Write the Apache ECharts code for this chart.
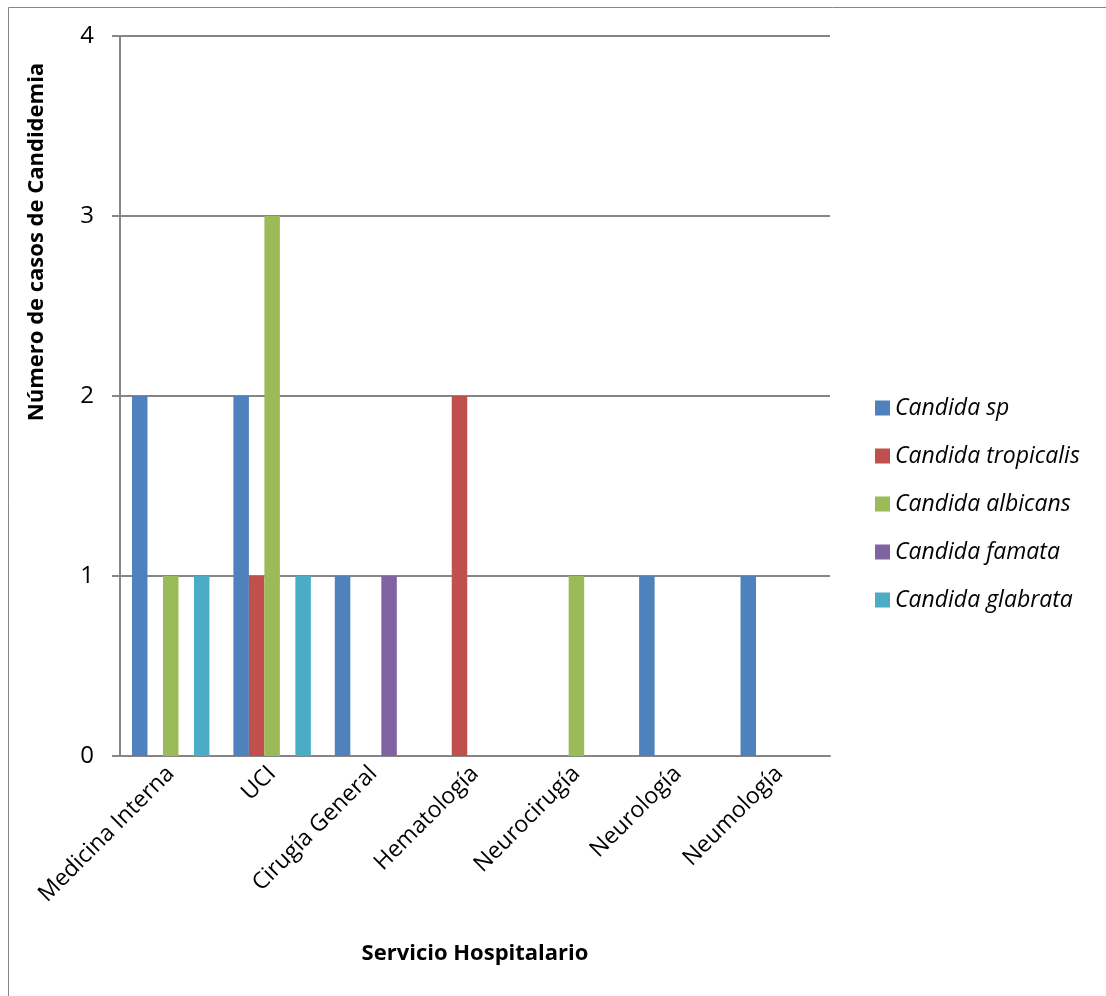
<!DOCTYPE html>
<html>
<head>
<meta charset="utf-8">
<script src="https://cdn.jsdelivr.net/npm/echarts@6/dist/echarts.min.js"></script>
<style>
  html, body { margin: 0; padding: 0; background: #fff; }
  #chart { width: 1106px; height: 996px; }
</style>
</head>
<body>
<div id="chart"></div>
<script>
// Servicios hospitalarios (categorías del eje X)
const servicios = ['Medicina Interna', 'UCI', 'Cirugía General', 'Hematología', 'Neurocirugía', 'Neurología', 'Neumología'];

// Número de casos por especie de Candida
const candidaSp         = [2, 2, 1, 0, 0, 1, 1];
const candidaTropicalis = [0, 1, 0, 2, 0, 0, 0];
const candidaAlbicans   = [1, 3, 0, 0, 1, 0, 0];
const candidaFamata     = [0, 0, 1, 0, 0, 0, 0];
const candidaGlabrata   = [1, 1, 0, 0, 0, 0, 0];

const especies = ['Candida sp', 'Candida tropicalis', 'Candida albicans', 'Candida famata', 'Candida glabrata'];
const colores = ['#4F81BD', '#C0504D', '#9BBB59', '#8064A2', '#4BACC6'];
const valores = [candidaSp, candidaTropicalis, candidaAlbicans, candidaFamata, candidaGlabrata];

const tituloY = 'Número de casos de Candidemia';
const tituloX = 'Servicio Hospitalario';

const fuente = '"Open Sans", "Liberation Sans", sans-serif';

const chart = echarts.init(document.getElementById('chart'), null, { renderer: 'canvas' });

chart.setOption({
  animation: false,
  backgroundColor: '#fff',
  color: colores,
  graphic: [
    {
      // marco del área del gráfico
      type: 'rect',
      shape: { x: 8.5, y: 7.5, width: 1200, height: 1200 },
      style: { fill: 'none', stroke: '#868686', lineWidth: 1 },
      silent: true
    },
    {
      // título del eje vertical, desplazado hacia arriba
      type: 'text',
      x: 37,
      y: 242,
      rotation: Math.PI / 2,
      style: {
        text: tituloY,
        fontFamily: fuente,
        fontSize: 22,
        fontWeight: 'bold',
        fill: '#000',
        align: 'center',
        verticalAlign: 'middle'
      },
      silent: true
    }
  ],
  grid: { left: 120, top: 36, width: 710, height: 720 },
  legend: {
    orient: 'vertical',
    left: 870,
    top: 390,
    itemWidth: 15,
    itemHeight: 15,
    itemGap: 22,
    icon: 'rect',
    textStyle: { fontFamily: fuente, fontSize: 23, fontStyle: 'italic', color: '#000', lineHeight: 26 },
    data: especies
  },
  xAxis: {
    type: 'category',
    data: servicios,
    name: tituloX,
    nameLocation: 'middle',
    nameGap: 187,
    nameTextStyle: { fontFamily: fuente, fontSize: 22, fontWeight: 'bold', color: '#000' },
    axisLine: { lineStyle: { color: '#868686', width: 2 } },
    axisTick: { show: false },
    axisLabel: { rotate: 45, margin: 14, fontFamily: fuente, fontSize: 23, color: '#000', interval: 0 }
  },
  yAxis: {
    type: 'value',
    min: 0,
    max: 4,
    interval: 1,
    axisLine: { show: true, lineStyle: { color: '#868686', width: 2 } },
    axisTick: { show: true, length: 8, lineStyle: { color: '#868686', width: 2 } },
    axisLabel: { margin: 26, fontFamily: fuente, fontSize: 24, color: '#000' },
    splitLine: { lineStyle: { color: '#868686', width: 2 } }
  },
  series: especies.map((nombre, i) => ({
    name: nombre,
    type: 'bar',
    data: valores[i],
    barGap: '0%',
    barCategoryGap: '23.6%',
    itemStyle: { color: colores[i] }
  }))
});
</script>
</body>
</html>
